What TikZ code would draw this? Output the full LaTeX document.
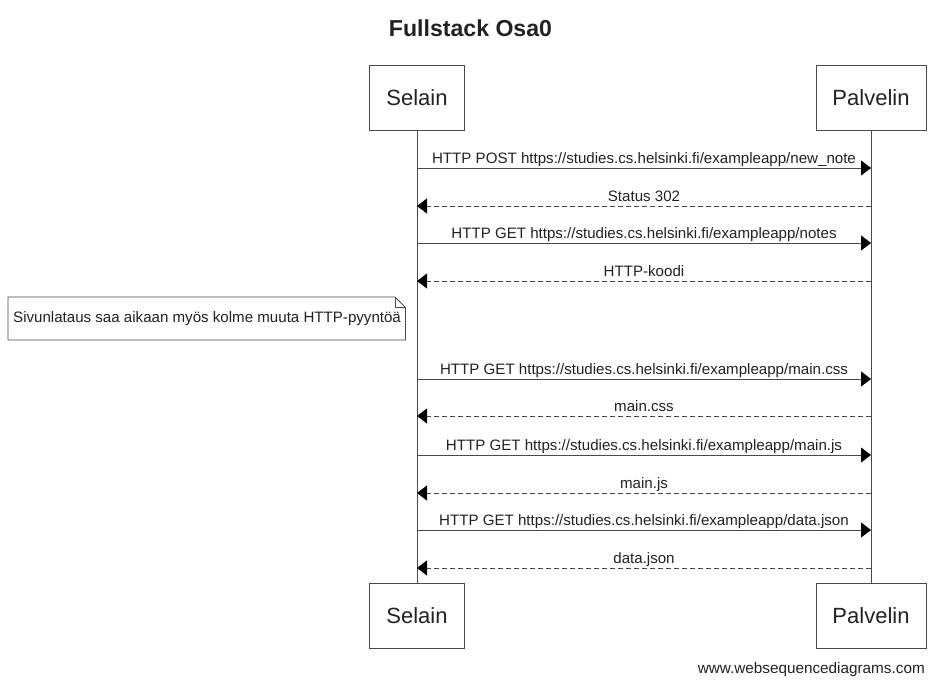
\documentclass[tikz,border=0pt]{standalone}
\usepackage{fontspec}
\setmainfont{Liberation Sans}
\usetikzlibrary{arrows.meta}
\definecolor{linec}{HTML}{4A4A4A}
\definecolor{txtc}{HTML}{222222}
\begin{document}
\begin{tikzpicture}[x=1pt,y=-1pt,
  part/.style={draw=linec,line width=0.9pt,fill=white,inner sep=0pt,text=txtc,font=\fontsize{22}{22}\selectfont},
  life/.style={draw=linec,line width=0.9pt},
  req/.style={draw=linec,line width=0.9pt,-{Triangle[length=10pt,width=15pt,color=black]}},
  resp/.style={draw=linec,line width=0.9pt,dash pattern=on 5pt off 3pt,-{Triangle[length=10pt,width=15pt,color=black]}},
  msg/.style={anchor=base,inner sep=0pt,text=txtc,font=\fontsize{15.1}{15.1}\selectfont},
  notetxt/.style={inner sep=0pt,text=txtc,font=\fontsize{15.1}{15.1}\selectfont}
]
\useasboundingbox[fill=white] (0,0) rectangle (939,685);
\node[inner sep=0pt,text=txtc,font=\fontsize{23.1}{23.1}\selectfont\bfseries] (title) at (470.5,28) {Fullstack Osa0};
% participants
\node[part,minimum width=95pt,minimum height=65pt] (s1) at (417,97.5) {Selain};
\node[part,minimum width=110pt,minimum height=65pt] (p1) at (871,97.5) {Palvelin};
\node[part,minimum width=95pt,minimum height=65pt] (s2) at (417,615.5) {Selain};
\node[part,minimum width=110pt,minimum height=65pt] (p2) at (871,615.5) {Palvelin};
\draw[life] (s1.south) -- (s2.north);
\draw[life] (p1.south) -- (p2.north);
% message endpoints
\foreach \i/\y in {1/168,2/206,3/243,4/281,5/379,6/416,7/455,8/493,9/530,10/568}{
  \coordinate (L\i) at (417,\y);
  \coordinate (R\i) at (871,\y);
}
\draw[req] (L1) -- (R1) node[msg,pos=0.5,yshift=5pt] (m1) {HTTP POST https://studies.cs.helsinki.fi/exampleapp/new\_note};
\draw[resp] (R2) -- (L2) node[msg,pos=0.5,yshift=5pt] (m2) {Status 302};
\draw[req] (L3) -- (R3) node[msg,pos=0.5,yshift=5pt] (m3) {HTTP GET https://studies.cs.helsinki.fi/exampleapp/notes};
\draw[resp] (R4) -- (L4) node[msg,pos=0.5,yshift=5pt] (m4) {HTTP-koodi};
\draw[req] (L5) -- (R5) node[msg,pos=0.5,yshift=5pt] (m5) {HTTP GET https://studies.cs.helsinki.fi/exampleapp/main.css};
\draw[resp] (R6) -- (L6) node[msg,pos=0.5,yshift=5pt] (m6) {main.css};
\draw[req] (L7) -- (R7) node[msg,pos=0.5,yshift=5pt] (m7) {HTTP GET https://studies.cs.helsinki.fi/exampleapp/main.js};
\draw[resp] (R8) -- (L8) node[msg,pos=0.5,yshift=5pt] (m8) {main.js};
\draw[req] (L9) -- (R9) node[msg,pos=0.5,yshift=5pt] (m9) {HTTP GET https://studies.cs.helsinki.fi/exampleapp/data.json};
\draw[resp] (R10) -- (L10) node[msg,pos=0.5,yshift=5pt] (m10) {data.json};
% note
\draw[linec,line width=0.9pt,fill=white] (8,297) -- (395,297) -- (405.5,307.5) -- (405.5,340) -- (8,340) -- cycle;
\draw[linec,line width=0.9pt] (395,297) -- (395,307.5) -- (405.5,307.5);
\node[notetxt,anchor=west] (note) at (13,319) {Sivunlataus saa aikaan myös kolme muuta HTTP-pyyntöä};
% footer
\node[inner sep=0pt,anchor=base east,text=txtc,font=\fontsize{15.3}{15.3}\selectfont] (foot) at (925,673) {www.websequencediagrams.com};
\end{tikzpicture}
\end{document}
